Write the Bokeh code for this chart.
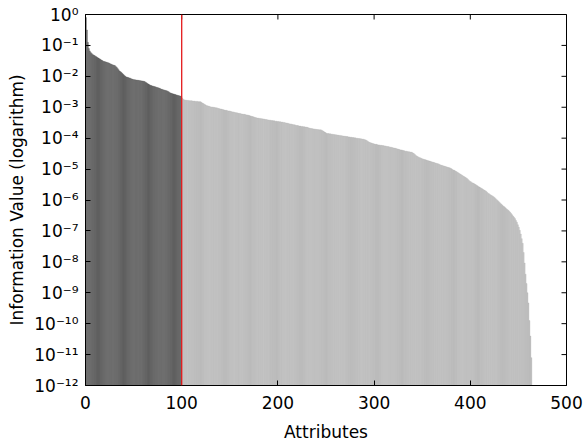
import numpy as np
from bokeh.plotting import figure
from bokeh.models import (ColumnDataSource, Range1d, FixedTicker,
                          CustomJSTickFormatter, Span)
from bokeh.embed import file_html
from bokeh.resources import INLINE

# log10 of information value, attributes sorted descending
log_info_selected = [
    -0.10, -0.50, -0.90, -1.10, -1.18, -1.23, -1.26, -1.29, -1.31, -1.33,
    -1.35, -1.37, -1.39, -1.41, -1.43, -1.45, -1.47, -1.49, -1.51, -1.52,
    -1.53, -1.54, -1.55, -1.56, -1.57, -1.59, -1.60, -1.62, -1.63, -1.64,
    -1.65, -1.68, -1.71, -1.75, -1.79, -1.83, -1.85, -1.88, -1.91, -1.94,
    -1.97, -2.00, -2.02, -2.03, -2.04, -2.05, -2.06, -2.08, -2.09, -2.10,
    -2.11, -2.11, -2.12, -2.12, -2.13, -2.13, -2.14, -2.14, -2.15, -2.15,
    -2.16, -2.17, -2.19, -2.21, -2.23, -2.25, -2.27, -2.29, -2.30, -2.31,
    -2.32, -2.33, -2.34, -2.35, -2.36, -2.37, -2.38, -2.39, -2.41, -2.42,
    -2.43, -2.44, -2.45, -2.46, -2.47, -2.48, -2.50, -2.52, -2.54, -2.55,
    -2.56, -2.57, -2.58, -2.59, -2.60, -2.61, -2.62, -2.63, -2.64, -2.65,
]
log_info_rest = [
    -2.70, -2.74, -2.76, -2.77, -2.77, -2.78, -2.78, -2.78, -2.79, -2.79,
    -2.79, -2.80, -2.80, -2.80, -2.81, -2.81, -2.81, -2.82, -2.82, -2.82,
    -2.84, -2.86, -2.88, -2.90, -2.92, -2.94, -2.95, -2.96, -2.97, -2.98,
    -2.99, -2.99, -3.00, -3.00, -3.01, -3.02, -3.02, -3.03, -3.04, -3.05,
    -3.06, -3.06, -3.07, -3.08, -3.09, -3.10, -3.10, -3.11, -3.12, -3.12,
    -3.13, -3.14, -3.15, -3.15, -3.16, -3.17, -3.18, -3.18, -3.19, -3.20,
    -3.20, -3.21, -3.22, -3.22, -3.23, -3.23, -3.24, -3.25, -3.25, -3.26,
    -3.27, -3.28, -3.29, -3.30, -3.31, -3.32, -3.33, -3.34, -3.35, -3.35,
    -3.36, -3.36, -3.37, -3.37, -3.38, -3.38, -3.39, -3.40, -3.40, -3.41,
    -3.41, -3.42, -3.42, -3.43, -3.43, -3.44, -3.44, -3.45, -3.45, -3.46,
    -3.46, -3.47, -3.47, -3.48, -3.48, -3.49, -3.49, -3.50, -3.51, -3.51,
    -3.52, -3.53, -3.54, -3.54, -3.55, -3.56, -3.57, -3.57, -3.58, -3.59,
    -3.59, -3.60, -3.61, -3.61, -3.62, -3.62, -3.63, -3.63, -3.64, -3.64,
    -3.65, -3.66, -3.67, -3.68, -3.69, -3.69, -3.70, -3.70, -3.71, -3.71,
    -3.72, -3.72, -3.73, -3.73, -3.73, -3.74, -3.76, -3.78, -3.80, -3.82,
    -3.84, -3.85, -3.85, -3.86, -3.86, -3.87, -3.87, -3.88, -3.88, -3.89,
    -3.89, -3.90, -3.90, -3.91, -3.91, -3.92, -3.92, -3.93, -3.93, -3.94,
    -3.94, -3.95, -3.95, -3.96, -3.96, -3.97, -3.97, -3.98, -3.98, -3.99,
    -3.99, -4.00, -4.00, -4.01, -4.01, -4.02, -4.02, -4.03, -4.03, -4.04,
    -4.05, -4.06, -4.08, -4.10, -4.12, -4.14, -4.15, -4.16, -4.17, -4.18,
    -4.19, -4.20, -4.20, -4.21, -4.22, -4.22, -4.23, -4.23, -4.24, -4.24,
    -4.25, -4.25, -4.26, -4.27, -4.27, -4.28, -4.29, -4.29, -4.30, -4.31,
    -4.32, -4.32, -4.33, -4.34, -4.35, -4.36, -4.37, -4.38, -4.38, -4.39,
    -4.40, -4.41, -4.42, -4.42, -4.43, -4.44, -4.44, -4.45, -4.45, -4.46,
    -4.48, -4.50, -4.53, -4.56, -4.58, -4.60, -4.62, -4.63, -4.64, -4.66,
    -4.67, -4.68, -4.69, -4.70, -4.71, -4.72, -4.73, -4.74, -4.75, -4.76,
    -4.77, -4.78, -4.79, -4.80, -4.81, -4.82, -4.83, -4.84, -4.86, -4.87,
    -4.88, -4.89, -4.90, -4.91, -4.92, -4.93, -4.94, -4.95, -4.96, -4.97,
    -4.99, -5.01, -5.03, -5.04, -5.06, -5.08, -5.10, -5.12, -5.14, -5.16,
    -5.18, -5.20, -5.22, -5.24, -5.26, -5.28, -5.30, -5.33, -5.36, -5.39,
    -5.41, -5.43, -5.45, -5.46, -5.48, -5.50, -5.52, -5.54, -5.56, -5.58,
    -5.60, -5.62, -5.64, -5.66, -5.68, -5.70, -5.72, -5.75, -5.78, -5.80,
    -5.82, -5.84, -5.86, -5.88, -5.90, -5.93, -5.96, -5.99, -6.02, -6.05,
    -6.08, -6.11, -6.14, -6.17, -6.20, -6.22, -6.25, -6.28, -6.31, -6.33,
    -6.36, -6.40, -6.44, -6.48, -6.52, -6.56, -6.60, -6.66, -6.72, -6.80,
    -6.88, -6.98, -7.10, -7.25, -7.40, -7.70, -8.04, -8.40, -8.70, -9.00,
    -9.33, -9.90, -10.40, -11.10,
]
threshold = 100
x_ticks = [0, 100, 200, 300, 400, 500]
y_tick_exponents = list(range(-12, 1))
x_limits = (0, 500)
y_limits_exp = (-12, 0)

FONT = "DejaVu Sans"
y_floor = 10.0 ** y_limits_exp[0]
y_ceil = 10.0 ** y_limits_exp[1]
y_tick_values = [10.0 ** e for e in y_tick_exponents]

def make_source(logs, start):
    n = len(logs)
    left = np.arange(start, start + n)
    return ColumnDataSource(dict(
        left=left, right=left + 1,
        top=10.0 ** np.array(logs),
        bottom=np.full(n, y_floor)))

src_sel = make_source(log_info_selected, 0)
src_rest = make_source(log_info_rest, len(log_info_selected))

p = figure(width=585, height=447, output_backend="svg", toolbar_location=None,
           y_axis_type="log",
           x_range=Range1d(*x_limits),
           y_range=Range1d(y_floor, y_ceil),
           min_border_left=85, min_border_right=19,
           min_border_top=14, min_border_bottom=62)
p.xgrid.visible = False
p.ygrid.visible = False
p.outline_line_color = "black"
p.outline_line_width = 1
p.background_fill_color = "white"

p.quad(left="left", right="right", top="top", bottom="bottom", source=src_sel,
       fill_color="#6a6a6a", line_color="#4c4c4c", line_width=0.3)
p.quad(left="left", right="right", top="top", bottom="bottom", source=src_rest,
       fill_color="#c1c1c1", line_color="#b0b0b0", line_width=0.3)

p.add_layout(Span(location=threshold, dimension="height",
                  line_color="#e41a1c", line_width=1.3))

# mirrored inward ticks on the top and right edges
p.scatter(x=x_ticks, y=[y_ceil] * len(x_ticks), marker="dash", size=10,
          angle=np.pi / 2, line_color="black", line_width=1)
p.scatter(x=[x_limits[1]] * len(y_tick_values), y=y_tick_values, marker="dash",
          size=10, line_color="black", line_width=1)

xt = FixedTicker(ticks=x_ticks, minor_ticks=[])
yt = FixedTicker(ticks=y_tick_values, minor_ticks=[])

sup_fmt = CustomJSTickFormatter(code="""
const sup = {'-':'\u207b','0':'\u2070','1':'\u00b9','2':'\u00b2','3':'\u00b3',
             '4':'\u2074','5':'\u2075','6':'\u2076','7':'\u2077','8':'\u2078','9':'\u2079'};
const e = Math.round(Math.log10(tick));
return '10' + String(e).split('').map(c => sup[c]).join('');
""")

def style_axis(ax):
    ax.axis_line_color = "black"
    ax.axis_line_width = 1
    ax.major_tick_in = 5
    ax.major_tick_out = 0
    ax.minor_tick_in = 0
    ax.minor_tick_out = 0
    ax.major_tick_line_color = "black"
    ax.major_label_text_font = FONT
    ax.major_label_text_color = "black"
    ax.axis_label_text_font = FONT
    ax.axis_label_text_font_style = "normal"
    ax.axis_label_text_color = "black"

xa = p.xaxis[0]
xa.ticker = xt
style_axis(xa)
xa.major_label_text_font_size = "17px"
xa.major_label_standoff = 10
xa.axis_label = "Attributes"
xa.axis_label_text_font_size = "17px"
xa.axis_label_standoff = 10

ya = p.yaxis[0]
ya.ticker = yt
ya.formatter = sup_fmt
style_axis(ya)
ya.major_label_text_font_size = "17px"
ya.major_label_standoff = 7
ya.axis_label = "Information Value (logarithm)"
ya.axis_label_text_font_size = "17px"
ya.axis_label_standoff = 4

open("out.html", "w").write(file_html(p, INLINE))
